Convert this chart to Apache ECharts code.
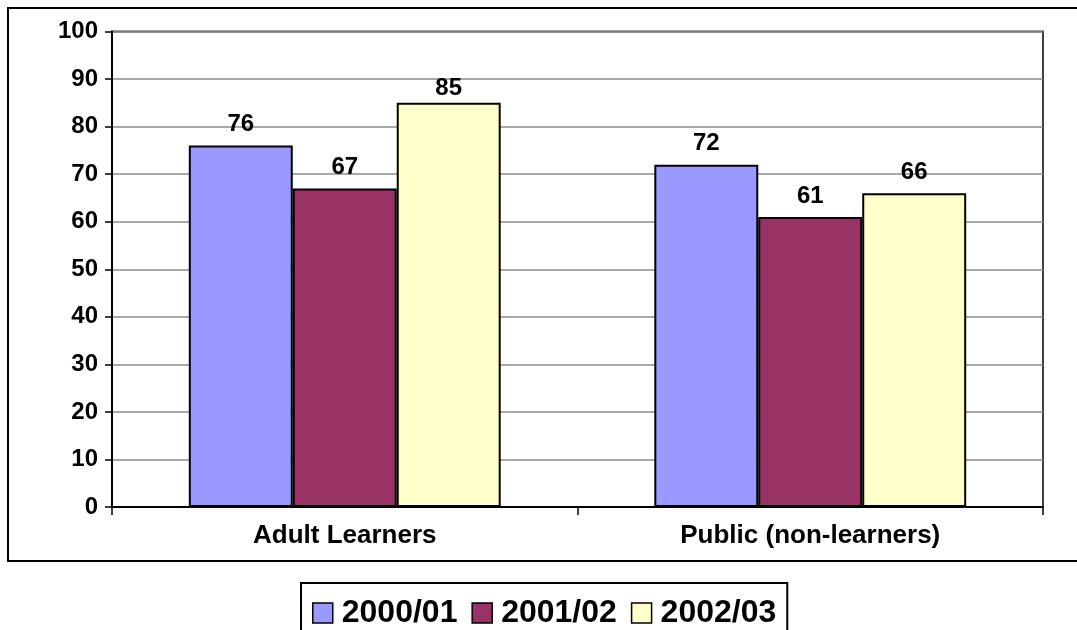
<!DOCTYPE html>
<html>
<head>
<meta charset="utf-8">
<script src="https://cdn.jsdelivr.net/npm/echarts@6/dist/echarts.min.js"></script>
<style>
html,body{margin:0;padding:0;background:#fff;}
#chart{width:1077px;height:630px;}
</style>
</head>
<body>
<div id="chart"></div>
<script>
const categories = ['Adult Learners', 'Public (non-learners)'];
const seriesNames = ['2000/01', '2001/02', '2002/03'];
const values2000 = [76, 72];
const values2001 = [67, 61];
const values2002 = [85, 66];
const colors = ['#9999FF', '#993366', '#FFFFCC'];

const FONT = '"Liberation Sans", Arial, sans-serif';
const chart = echarts.init(document.getElementById('chart'), null, {renderer: 'canvas'});

function bar(name, data, color) {
  return {
    name: name,
    type: 'bar',
    // tallest label sits closer to its bar, as in the reference
    data: data.map(v => v >= 80 ? {value: v, label: {distance: 2}} : v),
    barGap: '0%',
    barCategoryGap: '33%',
    itemStyle: {color: color, borderColor: '#000', borderWidth: 2},
    label: {
      show: true, position: 'top', distance: 9,
      color: '#000', fontFamily: FONT, fontWeight: 'bold', fontSize: 24
    },
    emphasis: {disabled: true}
  };
}

chart.setOption({
  animation: false,
  backgroundColor: '#fff',
  graphic: [{
    type: 'rect',
    shape: {x: 8, y: 8, width: 1100, height: 553},
    style: {fill: 'none', stroke: '#000', lineWidth: 2},
    silent: true, z: -1
  }],
  grid: {
    left: 112, right: 34, top: 31.5, bottom: 123,
    show: true, borderColor: '#404040', borderWidth: 2, backgroundColor: 'transparent'
  },
  legend: {
    data: seriesNames,
    left: 301, top: 583,
    orient: 'horizontal',
    itemWidth: 20, itemHeight: 20,
    itemGap: 14,
    padding: [14, 11, 30, 11],
    borderColor: '#000', borderWidth: 2,
    icon: 'rect',
    itemStyle: {borderColor: '#000', borderWidth: 1.5},
    textStyle: {color: '#000', fontFamily: FONT, fontWeight: 'bold', fontSize: 32, padding: [0, 0, 0, 4]}
  },
  xAxis: {
    type: 'category',
    data: categories,
    axisLine: {show: true, lineStyle: {color: '#000', width: 2}},
    axisTick: {show: true, length: 8, lineStyle: {color: '#000', width: 1.5}},
    axisLabel: {color: '#000', fontFamily: FONT, fontWeight: 'bold', fontSize: 26, margin: 16}
  },
  yAxis: {
    type: 'value',
    min: 0, max: 100, interval: 10,
    axisLine: {show: true, lineStyle: {color: '#000', width: 2}},
    axisTick: {show: true, length: 7, lineStyle: {color: '#000', width: 1.5}},
    axisLabel: {color: '#000', fontFamily: FONT, fontWeight: 'bold', fontSize: 24, margin: 14},
    splitLine: {show: true, lineStyle: {color: '#8c8c8c', width: 1.5}}
  },
  series: [
    bar(seriesNames[0], values2000, colors[0]),
    bar(seriesNames[1], values2001, colors[1]),
    bar(seriesNames[2], values2002, colors[2])
  ]
});
</script>
</body>
</html>
